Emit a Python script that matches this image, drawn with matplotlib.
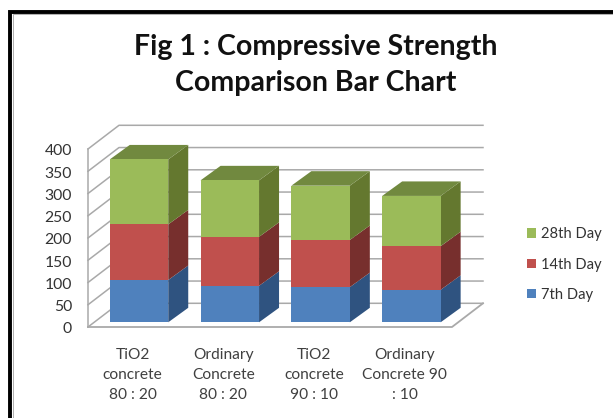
import matplotlib
matplotlib.use("Agg")
import matplotlib.pyplot as plt
from matplotlib.patches import Polygon, Patch
from matplotlib.lines import Line2D

plt.rcParams['font.family'] = ['Lato', 'DejaVu Sans']

categories = ["TiO2\nconcrete\n80 : 20", "Ordinary\nConcrete\n80 : 20",
              "TiO2\nconcrete\n90 : 10", "Ordinary\nConcrete 90\n: 10"]
day7 = [95, 82, 79, 73]
day14 = [125, 110, 106, 98]
day28 = [146, 127, 122, 113]
series_names = ["7th Day", "14th Day", "28th Day"]
y_ticks = [0, 50, 100, 150, 200, 250, 300, 350, 400]

front_colors = ["#4f81bd", "#c0504d", "#9bbb59"]
side_colors = ["#2f5380", "#772f2d", "#64782f"]
top_color = "#71893f"
grid_color = "#a9a9a9"

W, H = 613, 418
# pixel position of the first bar / value zero and the size of one unit
x0_px, cat_px = 139.0, 90.8
y0_px, unit_px = 322.3, 0.445

bar_w = 0.644
bar_dx, bar_dy = 20 / cat_px, 14.5 / unit_px
wall_dx, wall_dy = 31 / cat_px, 23.7 / unit_px
floor_y = -4.7 / unit_px
left_x = (88 - x0_px) / cat_px
right_x = (452 - x0_px) / cat_px

fig = plt.figure(figsize=(W / 100, H / 100), dpi=100)
ax = fig.add_axes([0, 0, 1, 1])
ax.set_xlim(-x0_px / cat_px, (W - x0_px) / cat_px)
ax.set_ylim((y0_px - H) / unit_px, y0_px / unit_px)
ax.axis('off')

# walls and floor
for v in y_ticks:
    y = floor_y + v
    ax.plot([left_x, left_x + wall_dx, right_x + wall_dx], [y, y + wall_dy, y + wall_dy],
            color=grid_color, lw=1.1, zorder=1)
ax.plot([left_x, left_x], [floor_y, floor_y + y_ticks[-1]], color=grid_color, lw=1.1, zorder=1)
ax.plot([left_x, right_x, right_x + wall_dx], [floor_y, floor_y, floor_y + wall_dy],
        color=grid_color, lw=1.3, zorder=1)
for v in y_ticks:
    ax.text(left_x - 16 / cat_px, floor_y + v - 2.3 / unit_px, str(v), ha='right', va='center',
            fontsize=11.3, color="#333333")

# bars, front faces through ax.bar and the depth faces on top of them
xs = list(range(len(categories)))
bottoms = [0] * len(xs)
for values, name, front, side in zip([day7, day14, day28], series_names, front_colors, side_colors):
    ax.bar(xs, values, bar_w, bottom=bottoms, color=front, zorder=3, label=name)
    for x, b, v in zip(xs, bottoms, values):
        r = x + bar_w / 2
        ax.add_patch(Polygon([(r, b), (r + bar_dx, b + bar_dy), (r + bar_dx, b + v + bar_dy), (r, b + v)],
                             closed=True, facecolor=side, edgecolor='none', zorder=2.5))
    bottoms = [b + v for b, v in zip(bottoms, values)]
for x, t in zip(xs, bottoms):
    l, r = x - bar_w / 2, x + bar_w / 2
    ax.add_patch(Polygon([(l, t), (r, t), (r + bar_dx, t + bar_dy), (l + bar_dx, t + bar_dy)],
                         closed=True, facecolor=top_color, edgecolor='none', zorder=2.5))

# category labels
for x, label in zip(xs, categories):
    ax.text(x - 6.5 / cat_px, -(375 - y0_px) / unit_px, label, ha='center', va='center', fontsize=11.2,
            color="#404040", linespacing=1.52)

handles = [Patch(facecolor=c, label=n) for c, n in zip(front_colors[::-1], series_names[::-1])]
ax.legend(handles=handles, loc='center left', bbox_to_anchor=(527 / W, 1 - 264.5 / H), frameon=False,
          fontsize=10.6, labelspacing=1.11, handlelength=0.61, handleheight=0.61, handletextpad=0.34,
          labelcolor="#333333", borderpad=0, borderaxespad=0)

fig.text(316 / W, 1 - 65 / H, "Fig 1 : Compressive Strength\nComparison Bar Chart", ha='center', va='center',
         fontsize=20.5, fontweight='bold', color="#111111", linespacing=1.5)

# outer frame of the scanned figure
fig.add_artist(Line2D([10 / W, 10 / W, 1], [0, 1 - 11.7 / H, 1 - 11.7 / H], color='black', lw=2.8,
                      solid_joinstyle='miter', transform=fig.transFigure))
fig.add_artist(Line2D([12.5 / W, 12.5 / W, 1], [0, 1 - 14 / H, 1 - 14 / H], color='#b0b0b0', lw=0.7,
                      transform=fig.transFigure))

fig.savefig("out.png", dpi=100)
